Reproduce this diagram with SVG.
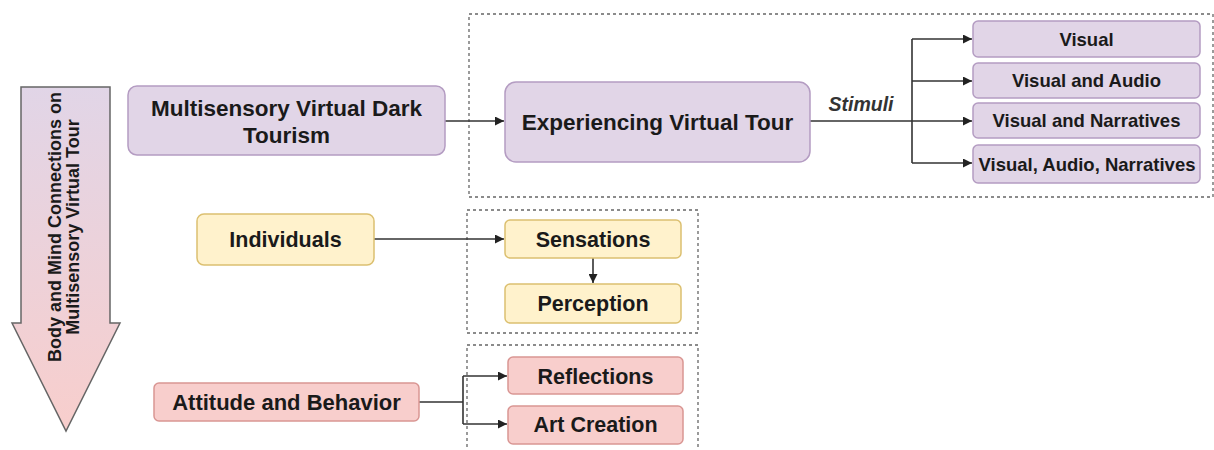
<svg xmlns="http://www.w3.org/2000/svg" width="1214" height="450" viewBox="0 0 1214 450">
  <defs>
    <linearGradient id="flowGrad" x1="0" y1="0" x2="0" y2="1">
      <stop offset="0" stop-color="#e1d5e7"/>
      <stop offset="1" stop-color="#f8cecc"/>
    </linearGradient>
    <marker id="tip" viewBox="0 0 10 10" refX="10" refY="5" markerWidth="9" markerHeight="9" markerUnits="userSpaceOnUse" orient="auto">
      <path d="M0,0 L10,5 L0,10 Z" fill="#222"/>
    </marker>
    <style>
      .lbl { font-family: "Liberation Sans", Arial, sans-serif; font-weight: bold; fill: #1a1a1a; text-anchor: middle; }
      .purple { fill: #e1d5e7; stroke: #b49cc2; stroke-width: 1.5; }
      .yellow { fill: #fff2cc; stroke: #dcc070; stroke-width: 1.5; }
      .red { fill: #f8cecc; stroke: #d99693; stroke-width: 1.5; }
      .group { fill: none; stroke: #666; stroke-width: 1.3; stroke-dasharray: 3 3; }
      .wire { fill: none; stroke: #333; stroke-width: 1.6; }
    </style>
  </defs>

  <rect width="1214" height="450" fill="#ffffff"/>

  <!-- dashed grouping frames -->
  <g id="frames">
    <rect class="group" x="469" y="14" width="744" height="183"/>
    <rect class="group" x="467" y="210" width="231" height="123"/>
    <rect class="group" x="467" y="345" width="231" height="120"/>
  </g>

  <!-- downward flow arrow -->
  <g id="flow-arrow">
    <path d="M21,87 L110,87 L110,323 L120,323 L66,431 L12,323 L21,323 Z" fill="url(#flowGrad)" stroke="#666" stroke-width="1.5"/>
    <g transform="translate(66,227) rotate(-90)">
      <text class="lbl" x="0" y="-5" font-size="18">Body and Mind Connections on</text>
      <text class="lbl" x="0" y="13" font-size="18">Multisensory Virtual Tour</text>
    </g>
  </g>

  <!-- connectors -->
  <g id="connectors">
    <path class="wire" d="M445,121 L504,121" marker-end="url(#tip)"/>
    <path class="wire" d="M810,121 L912,121"/>
    <path class="wire" d="M912,39 L912,163"/>
    <path class="wire" d="M912,39 L972,39" marker-end="url(#tip)"/>
    <path class="wire" d="M912,81 L972,81" marker-end="url(#tip)"/>
    <path class="wire" d="M912,121 L972,121" marker-end="url(#tip)"/>
    <path class="wire" d="M912,163 L972,163" marker-end="url(#tip)"/>
    <path class="wire" d="M374,239 L504,239" marker-end="url(#tip)"/>
    <path class="wire" d="M593,258 L593,283" marker-end="url(#tip)"/>
    <path class="wire" d="M419,402 L463,402"/>
    <path class="wire" d="M463,376 L463,424"/>
    <path class="wire" d="M463,376 L507,376" marker-end="url(#tip)"/>
    <path class="wire" d="M463,424 L507,424" marker-end="url(#tip)"/>
    <text x="861" y="110.5" font-family="Liberation Sans, Arial, sans-serif" font-size="19.5" font-style="italic" font-weight="bold" fill="#333" text-anchor="middle">Stimuli</text>
  </g>

  <g id="dark-tourism">
    <rect class="purple" x="128" y="86" width="317" height="69" rx="9"/>
    <text class="lbl" x="286.5" y="116" font-size="22.5">Multisensory Virtual Dark</text>
    <text class="lbl" x="286.5" y="143" font-size="22.5">Tourism</text>
  </g>

  <g id="experiencing">
    <rect class="purple" x="505" y="82" width="305" height="80" rx="11"/>
    <text class="lbl" x="657.5" y="130" font-size="22.5">Experiencing Virtual Tour</text>
  </g>

  <g id="visual">
    <rect class="purple" x="973" y="21" width="227" height="36" rx="5"/>
    <text class="lbl" x="1086.5" y="45.5" font-size="18.5">Visual</text>
  </g>
  <g id="visual-audio">
    <rect class="purple" x="973" y="63" width="227" height="35" rx="5"/>
    <text class="lbl" x="1086.5" y="87" font-size="18.5">Visual and Audio</text>
  </g>
  <g id="visual-narratives">
    <rect class="purple" x="973" y="103" width="227" height="35" rx="5"/>
    <text class="lbl" x="1086.5" y="127" font-size="18.5">Visual and Narratives</text>
  </g>
  <g id="visual-audio-narratives">
    <rect class="purple" x="973" y="145" width="227" height="38" rx="5"/>
    <text class="lbl" x="1087" y="170.5" font-size="18.5">Visual, Audio, Narratives</text>
  </g>

  <g id="individuals">
    <rect class="yellow" x="197" y="214" width="177" height="51" rx="7"/>
    <text class="lbl" x="285.5" y="247" font-size="21.5">Individuals</text>
  </g>
  <g id="sensations">
    <rect class="yellow" x="505" y="220" width="176" height="38" rx="5"/>
    <text class="lbl" x="593" y="247" font-size="21.5">Sensations</text>
  </g>
  <g id="perception">
    <rect class="yellow" x="505" y="284" width="176" height="39" rx="5"/>
    <text class="lbl" x="593" y="311" font-size="21.5">Perception</text>
  </g>

  <g id="attitude">
    <rect class="red" x="154" y="383" width="265" height="38" rx="5"/>
    <text class="lbl" x="286.5" y="410" font-size="22">Attitude and Behavior</text>
  </g>
  <g id="reflections">
    <rect class="red" x="508" y="357" width="175" height="37" rx="5"/>
    <text class="lbl" x="595.5" y="383.5" font-size="21.5">Reflections</text>
  </g>
  <g id="art-creation">
    <rect class="red" x="508" y="406" width="175" height="38" rx="5"/>
    <text class="lbl" x="595.5" y="432" font-size="21.5">Art Creation</text>
  </g>
</svg>
